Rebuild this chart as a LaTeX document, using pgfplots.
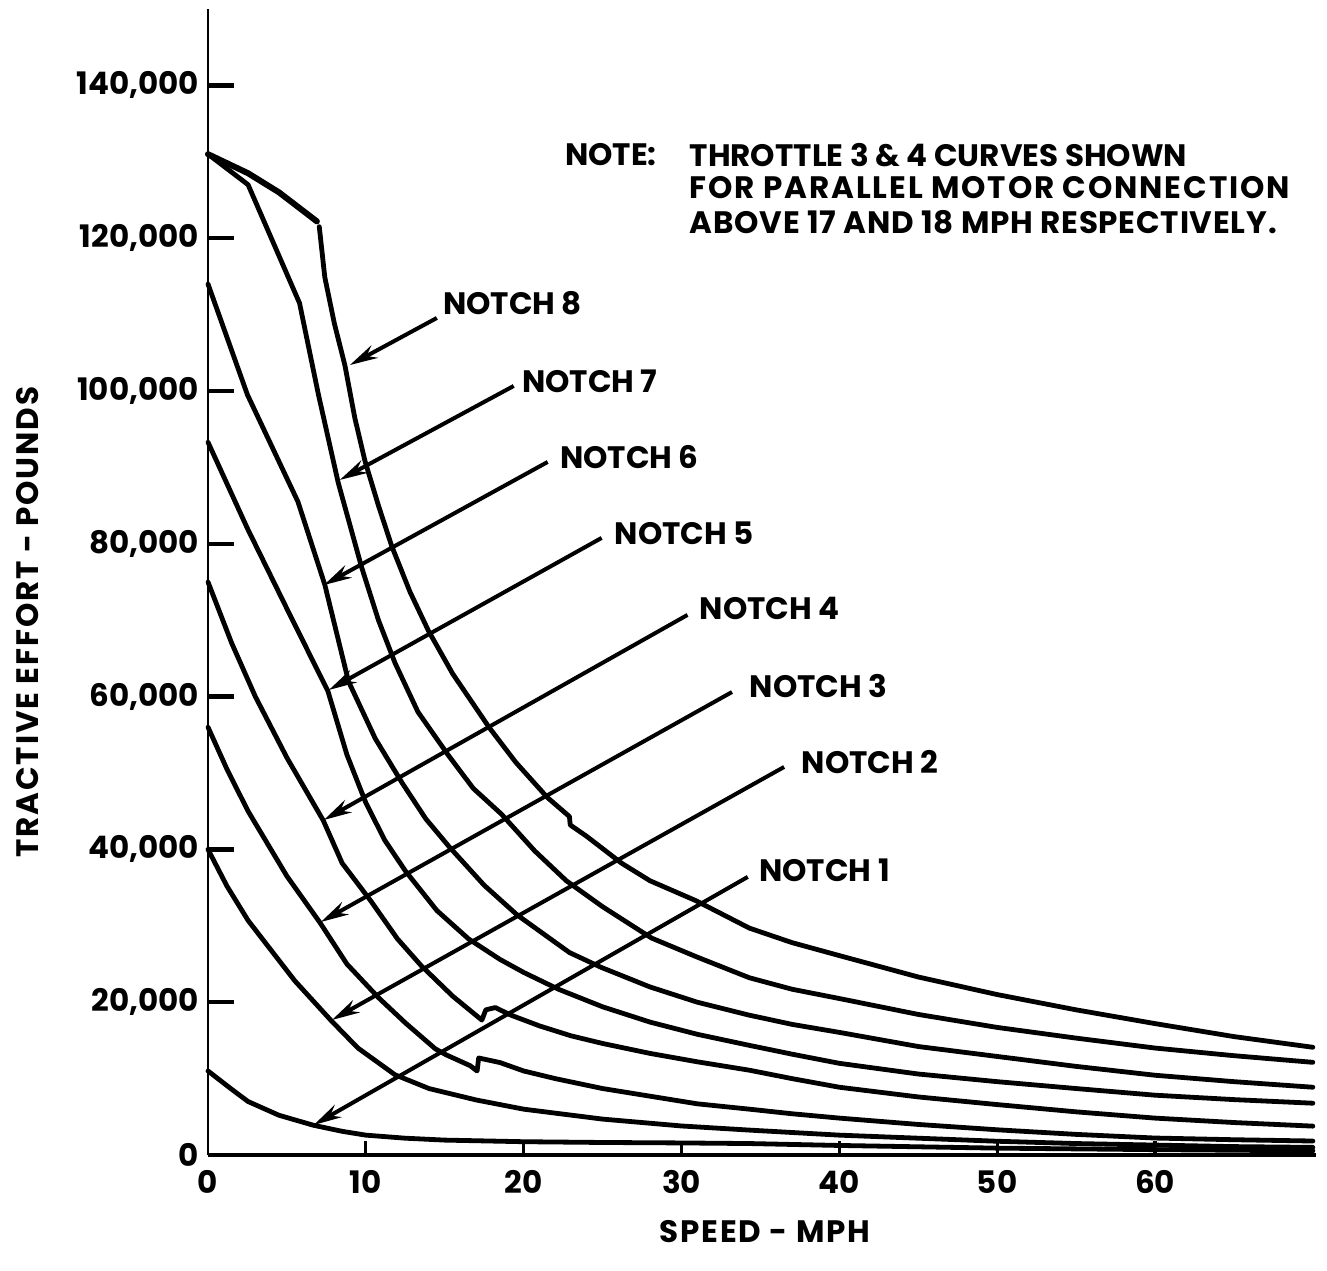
\documentclass[border=0pt]{standalone}
\usepackage{pgfplots}
\pgfplotsset{compat=1.18}
\usepackage{fontspec}
\setmainfont{Poppins}
\usetikzlibrary{arrows.meta,calc}
\newcommand\lab{\bfseries\fontsize{15.5}{18}\selectfont}
\pgfplotsset{
  tecurve/.style={black, line width=2.4pt, line cap=round, line join=round, no markers},
}
\tikzset{narr/.style={black, line width=2pt, -{Stealth[length=14pt,width=7pt]}}}
\begin{document}
\begin{tikzpicture}
\begin{axis}[
  scale only axis, width=554pt, height=573pt,
  xmin=0, xmax=70.2, ymin=0, ymax=150000,
  axis lines=left,
  x axis line style={-, line width=1.6pt},
  y axis line style={-, line width=1.1pt},
  xtick={0,10,20,30,40,50,60}, xticklabels={0,10,20,30,40,50,60},
  ytick={0,20000,40000,60000,80000,100000,120000,140000},
  yticklabels={0,{20,000},{40,000},{60,000},{80,000},{100,000},{120,000},{140,000}},
  tick align=inside, major tick length=13pt,
  tick style={line width=2.2pt, black},
  xtick style={draw=none},
  tick label style={font=\lab},
  yticklabel style={xshift=-1pt},
  xticklabel style={yshift=-4pt},
  xlabel={\addfontfeature{LetterSpace=6}SPEED - MPH},
  xlabel style={at={(axis description cs:0.5027,-0.0672)}, anchor=center, font=\lab},
  ylabel={\addfontfeature{LetterSpace=6}TRACTIVE EFFORT - POUNDS},
  ylabel style={at={(axis description cs:-0.1625,0.465)}, anchor=center, font=\lab},
  clip=false,
]
% Notch 1
\addplot[tecurve] coordinates {(0,11000)(1.5,8600)(2.54,7000)(4.5,5200)(6.67,3900)(8.5,3100)(10,2600)(12.5,2200)(15,1950)(20,1740)(25,1640)(30,1580)(34.3,1500)(40,1250)(50,900)(60,700)(70,550)};
% Notch 2
\addplot[tecurve] coordinates {(0,40000)(1.2,35200)(2.54,30700)(4,26800)(5.5,22800)(7.8,17600)(9.5,14000)(11.85,10500)(14,8700)(17,7200)(20,6000)(25,4700)(30,3800)(34.3,3260)(40,2600)(45,2200)(50,1800)(55,1500)(60,1300)(65,1100)(70,1000)};
% Notch 3
\addplot[tecurve] coordinates {(0,56000)(1.2,50500)(2.54,45000)(5,36500)(7.1,30400)(8.8,25000)(10.8,20600)(12.5,17300)(14.4,13900)(15.1,13100)(16.6,11700)(17.05,11000)(17.15,12700)(18.5,12100)(20,11000)(22,10000)(25,8700)(28,7700)(31,6700)(34.3,6000)(37,5400)(40,4830)(45,4000)(50,3300)(55,2700)(60,2220)(65,2000)(70,1830)};
% Notch 4
\addplot[tecurve] coordinates {(0,75000)(1.5,67000)(3,60000)(5,52000)(7.3,43800)(8.5,38200)(10.3,33300)(12,28300)(13.5,24800)(15.5,20800)(17.35,17660)(17.6,19000)(18.2,19300)(19.2,18300)(21,16900)(23,15600)(25,14600)(28,13300)(31,12200)(34.3,11100)(37,10000)(40,8870)(45,7600)(50,6600)(55,5650)(60,4830)(65,4250)(70,3780)};
% Notch 5
\addplot[tecurve] coordinates {(0,93300)(2.5,82000)(5,71500)(7.6,60700)(8.8,52400)(10,46100)(11.2,41200)(12.5,37200)(14.5,32000)(16.5,28300)(18.5,25600)(20,23900)(22.2,21700)(25,19400)(28,17400)(31,15800)(34.3,14350)(37,13200)(40,12000)(45,10600)(50,9600)(55,8700)(60,7830)(65,7250)(70,6780)};
% Notch 6
\addplot[tecurve] coordinates {(0,114000)(2.5,99500)(5.7,85500)(7.4,74650)(8.9,62000)(10.6,54500)(12.3,48700)(13.8,44000)(15.3,40300)(17.5,35300)(19.6,31400)(22.9,26500)(24.9,24570)(28,22000)(31,20000)(34.3,18300)(37,17100)(40,16050)(45,14200)(50,12900)(55,11600)(60,10440)(65,9600)(70,8870)};
% Notch 7
\addplot[tecurve] coordinates {(0,131000)(2.54,127000)(5.8,111500)(7,99500)(8.25,88000)(9.73,76950)(10.8,70000)(11.85,64400)(13.3,58000)(15.2,52400)(16.8,48000)(18.6,44600)(20.7,39800)(22.7,35900)(25,32500)(28.1,28400)(31,25900)(34.3,23200)(37,21700)(40,20480)(45,18400)(50,16700)(55,15300)(60,14000)(65,13000)(70,12130)};
% Notch 8
\addplot[tecurve, line width=3pt] coordinates {(0,131000)(2.54,128500)(4.5,126000)(6.9,122200)};
\addplot[tecurve] coordinates {(7.05,121500)(7.4,114900)(8,108900)(8.68,103300)(9.3,96500)(9.95,90800)(10.8,85000)(11.64,79700)(12.8,73700)(13.97,68600)(15.5,63000)(17.8,56000)(19.5,51400)(21.5,46800)(22.9,44300)(22.95,43200)(24,41700)(26.2,38200)(28,35900)(30.9,33300)(34.3,29700)(37,27800)(40,26100)(45,23300)(50,21000)(55,19000)(60,17200)(65,15500)(70,14100)};
% x tick marks
\pgfplotsinvokeforeach{10,20,30,40,50,60}{\draw[line width=1.6pt] (axis cs:#1,0) -- ++(0pt,7pt);}
% notch labels and arrows
\node[anchor=west, inner sep=0pt, font=\lab] at (axis cs:14.87,111500) {NOTCH 8};
\draw[narr] (axis cs:14.5,109560) -- (axis cs:8.99,103400);
\node[anchor=west, inner sep=0pt, font=\lab] at (axis cs:19.87,101300) {NOTCH 7};
\draw[narr] (axis cs:19.37,100660) -- (axis cs:8.35,88360);
\node[anchor=west, inner sep=0pt, font=\lab] at (axis cs:22.28,91370) {NOTCH 6};
\draw[narr] (axis cs:21.52,90710) -- (axis cs:7.34,74600);
\node[anchor=west, inner sep=0pt, font=\lab] at (axis cs:25.76,81420) {NOTCH 5};
\draw[narr] (axis cs:24.94,80770) -- (axis cs:7.66,60870);
\node[anchor=west, inner sep=0pt, font=\lab] at (axis cs:31.14,71600) {NOTCH 4};
\draw[narr] (axis cs:30.38,70690) -- (axis cs:7.34,43850);
\node[anchor=west, inner sep=0pt, font=\lab] at (axis cs:34.3,61390) {NOTCH 3};
\draw[narr] (axis cs:33.2,60600) -- (axis cs:7.15,30500);
\node[anchor=west, inner sep=0pt, font=\lab] at (axis cs:37.6,51440) {NOTCH 2};
\draw[narr] (axis cs:36.5,50790) -- (axis cs:7.85,17670);
\node[anchor=west, inner sep=0pt, font=\lab] at (axis cs:34.9,37300) {NOTCH 1};
\draw[narr] (axis cs:34.2,36400) -- (axis cs:6.7,3930);
% note
\node[anchor=west, inner sep=0pt, font=\lab] at (axis cs:22.6,130900) {NOTE:};
\node[anchor=west, inner sep=0pt, font=\lab] at (axis cs:30.5,130900) {THROTTLE 3 \& 4 CURVES SHOWN};
\node[anchor=west, inner sep=0pt, font=\lab] at (axis cs:30.5,126580) {\addfontfeature{LetterSpace=6}FOR PARALLEL MOTOR CONNECTION};
\node[anchor=west, inner sep=0pt, font=\lab] at (axis cs:30.5,122130) {\addfontfeature{LetterSpace=2.5}ABOVE 17 AND 18 MPH RESPECTIVELY.};
\end{axis}
\pgfresetboundingbox
\path ($(current axis.south west)+(-104pt,-57.5pt)$) rectangle ($(current axis.north east)+(5.5pt,4.5pt)$);
\end{tikzpicture}
\end{document}
